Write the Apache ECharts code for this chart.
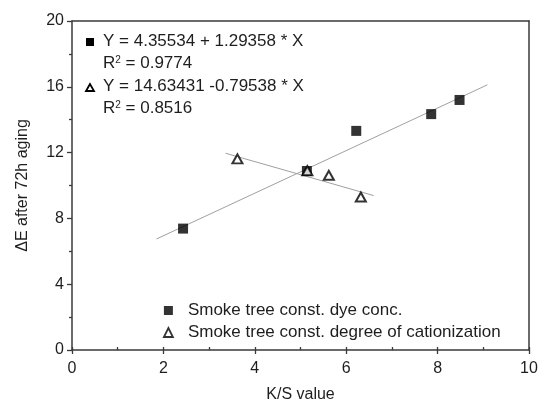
<!DOCTYPE html>
<html>
<head>
<meta charset="utf-8">
<script src="https://cdn.jsdelivr.net/npm/echarts@6/dist/echarts.min.js"></script>
<style>html,body{margin:0;padding:0;background:#fff}#c{width:545px;height:408px}</style>
</head>
<body>
<div id="c"></div>
<script>
// Data
const dyeConcX = [2.43, 5.14, 6.22, 7.86, 8.48];
const dyeConcY = [7.38, 10.88, 13.32, 14.34, 15.2];
const cationX = [3.62, 5.15, 5.62, 6.32];
const cationY = [11.62, 10.9, 10.62, 9.3];
// fitted line endpoints (as drawn)
const fit1X = [1.85, 9.09];
const fit1Y = [6.75, 16.12];
const fit2X = [3.36, 6.6];
const fit2Y = [11.96, 9.39];
const xTicks = [0, 2, 4, 6, 8, 10];
const yTicks = [0, 4, 8, 12, 16, 20];
const seriesNames = ['Smoke tree const. dye conc.', 'Smoke tree const. degree of cationization'];
const eq1 = 'Y = 4.35534 + 1.29358 * X';
const r1 = '0.9774';
const eq2 = 'Y = 14.63431 -0.79538 * X';
const r2 = '0.8516';

const zip = (a, b) => a.map((v, i) => [v, b[i]]);
const FONT = '"Liberation Sans", Arial, sans-serif';
const axisColor = '#3a3a3a';
const txt = '#1e1e1e';

const chart = echarts.init(document.getElementById('c'), null, {renderer: 'canvas'});
const commonX = {
  type: 'value', min: xTicks[0], max: xTicks[xTicks.length - 1], interval: 2,
  splitLine: {show: false}
};
const commonY = {
  type: 'value', min: yTicks[0], max: yTicks[yTicks.length - 1], interval: 4,
  splitLine: {show: false}
};
const richR = {
  a: {font: '17px ' + FONT, fill: txt, verticalAlign: 'bottom'},
  s: {font: '10px ' + FONT, fill: txt, verticalAlign: 'top'}
};
chart.setOption({
  animation: false,
  backgroundColor: '#fff',
  textStyle: {fontFamily: FONT},
  grid: {left: 72, right: 16, top: 21, bottom: 56, containLabel: false},
  xAxis: [
    Object.assign({}, commonX, {
      position: 'bottom',
      name: 'K/S value', nameLocation: 'middle', nameGap: 37,
      nameTextStyle: {fontSize: 16, color: txt, fontFamily: FONT},
      axisLine: {show: true, lineStyle: {color: axisColor, width: 1.5}},
      axisTick: {show: true, inside: false, length: 4, lineStyle: {color: axisColor, width: 1.3}},
      minorTick: {show: false},
      axisLabel: {fontSize: 16, color: txt, margin: 11, fontFamily: FONT}
    }),
    Object.assign({}, commonX, {
      position: 'bottom', gridIndex: 0,
      axisLine: {show: false},
      axisTick: {show: true, inside: true, length: 3, lineStyle: {color: axisColor, width: 1.3}},
      minorTick: {show: true, splitNumber: 2, length: 3, lineStyle: {color: axisColor, width: 1.3}},
      axisLabel: {show: false}
    }),
    Object.assign({}, commonX, {
      position: 'top',
      axisLine: {show: true, onZero: false, lineStyle: {color: axisColor, width: 1.5}},
      axisTick: {show: false}, axisLabel: {show: false}
    })
  ],
  yAxis: [
    Object.assign({}, commonY, {
      position: 'left',
      name: 'ΔE after 72h aging', nameLocation: 'middle', nameGap: 41,
      nameTextStyle: {fontSize: 16, color: txt, fontFamily: FONT},
      axisLine: {show: true, onZero: false, lineStyle: {color: axisColor, width: 1.5}},
      axisTick: {show: true, inside: false, length: 5, lineStyle: {color: axisColor, width: 1.3}},
      minorTick: {show: true, splitNumber: 2, length: 3, lineStyle: {color: axisColor, width: 1.3}},
      axisLabel: {fontSize: 16, color: txt, margin: 8, fontFamily: FONT}
    }),
    Object.assign({}, commonY, {
      position: 'right',
      axisLine: {show: true, onZero: false, lineStyle: {color: axisColor, width: 1.5}},
      axisTick: {show: false}, axisLabel: {show: false}
    })
  ],
  legend: {
    orient: 'vertical', left: 158, top: 297,
    itemGap: 5, itemWidth: 9, itemHeight: 9,
    textStyle: {fontSize: 17, color: txt, fontFamily: FONT, padding: [0, 0, 0, 10]},
    data: [
      {name: seriesNames[0], icon: 'rect', itemStyle: {color: '#000', borderWidth: 0}},
      {name: seriesNames[1], icon: 'triangle', itemStyle: {color: '#fff', borderColor: '#000', borderWidth: 1.8}}
    ]
  },
  series: [
    {
      type: 'line', data: zip(fit1X, fit1Y), symbol: 'none', silent: true,
      lineStyle: {color: '#a0a0a0', width: 1}, z: 1
    },
    {
      type: 'line', data: zip(fit2X, fit2Y), symbol: 'none', silent: true,
      lineStyle: {color: '#a0a0a0', width: 1}, z: 1
    },
    {
      name: seriesNames[0], type: 'scatter', data: zip(dyeConcX, dyeConcY),
      symbol: 'rect', symbolSize: 10, itemStyle: {color: '#000'}, z: 3
    },
    {
      name: seriesNames[1], type: 'scatter', data: zip(cationX, cationY),
      symbol: 'triangle', symbolSize: [10, 9],
      itemStyle: {color: '#fff', borderColor: '#000', borderWidth: 2}, z: 4
    }
  ],
  graphic: [
    {type: 'rect', shape: {x: 86, y: 38, width: 8, height: 8}, style: {fill: '#000'}},
    {type: 'text', left: 103, top: 33, style: {text: eq1, font: '17px ' + FONT, fill: txt}},
    {type: 'text', left: 103, top: 55, style: {text: '{a|R}{s|2}{a| = ' + r1 + '}', rich: richR}},
    {type: 'polygon', shape: {points: [[90, 84], [86, 91], [94, 91]]}, style: {fill: '#fff', stroke: '#000', lineWidth: 1.8}},
    {type: 'text', left: 103, top: 78, style: {text: eq2, font: '17px ' + FONT, fill: txt}},
    {type: 'text', left: 103, top: 100, style: {text: '{a|R}{s|2}{a| = ' + r2 + '}', rich: richR}}
  ]
});
</script>
</body>
</html>
